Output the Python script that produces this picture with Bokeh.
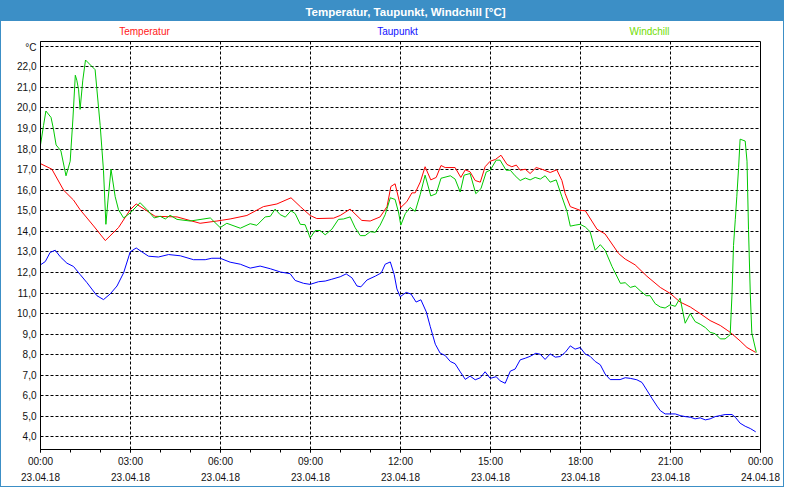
from bokeh.plotting import figure
from bokeh.layouts import column
from bokeh.models import FixedTicker
from bokeh.core.properties import value
from bokeh.embed import file_html
from bokeh.resources import INLINE

# ---------------- data (hours since 23.04.18 00:00, °C) ----------------
t_temp = [0.0, 0.38, 0.77, 1.1, 1.32, 1.77, 2.16, 2.6, 2.99, 3.19, 3.49, 3.82, 4.55, 5.32, 5.88,
          6.32, 6.88, 7.43, 7.88, 8.35, 8.66, 8.99, 9.21, 9.77, 9.99, 10.32, 10.71, 10.99, 11.32,
          11.55, 11.68, 11.82, 12.01, 12.21, 12.38, 12.49, 12.66, 12.82, 13.01, 13.19, 13.35,
          13.49, 13.82, 14.01, 14.16, 14.32, 14.49, 14.66, 14.82, 14.99, 15.16, 15.35, 15.55,
          15.71, 15.86, 15.99, 16.16, 16.32, 16.52, 16.71, 16.99, 17.21, 17.38, 17.49, 17.66,
          17.99, 18.16, 18.55, 18.82, 19.27, 19.49, 19.82, 20.21, 20.66, 20.99, 21.32, 21.66,
          21.99, 22.32, 22.66, 22.99, 23.32, 23.55, 23.84]
temp = [17.29, 17.02, 16.0, 15.52, 15.05, 14.26, 13.55, 14.18, 15.05, 15.33, 15.05, 14.73, 14.7,
        14.39, 14.5, 14.6, 14.77, 15.2, 15.33, 15.63, 15.2, 14.77, 14.62, 14.64, 14.77, 15.08,
        14.53, 14.5, 14.7, 15.2, 16.18, 16.31, 15.16, 15.44, 15.87, 15.87, 16.4, 17.14, 16.5,
        16.62, 17.2, 17.1, 17.1, 16.62, 16.99, 16.89, 16.47, 16.39, 17.14, 17.41, 17.49, 17.7,
        17.25, 17.14, 17.22, 16.97, 17.02, 16.81, 17.1, 17.02, 16.86, 16.99, 16.47, 15.83, 15.2,
        15.02, 15.0, 14.1, 13.87, 12.92, 12.65, 12.37, 11.82, 11.27, 10.98, 10.56, 10.32, 10.0,
        9.66, 9.42, 9.09, 8.67, 8.35, 8.11]

t_dew = [0.0, 0.16, 0.32, 0.49, 0.66, 0.88, 1.1, 1.32, 1.55, 1.88, 2.1, 2.32, 2.55, 2.77, 2.99,
         3.19, 3.38, 3.6, 3.93, 4.27, 4.66, 5.1, 5.49, 5.71, 5.99, 6.32, 6.66, 6.99, 7.32, 7.66,
         8.0, 8.32, 8.49, 8.77, 8.99, 9.27, 9.49, 9.71, 9.99, 10.19, 10.38, 10.55, 10.68, 10.88,
         11.16, 11.36, 11.49, 11.66, 11.79, 11.88, 11.99, 12.19, 12.35, 12.52, 12.68, 12.86,
         12.99, 13.16, 13.32, 13.49, 13.66, 13.82, 13.99, 14.16, 14.32, 14.49, 14.66, 14.82,
         14.99, 15.19, 15.32, 15.49, 15.66, 15.82, 15.99, 16.16, 16.32, 16.51, 16.66, 16.82,
         16.99, 17.16, 17.32, 17.49, 17.66, 17.82, 17.99, 18.16, 18.32, 18.49, 18.66, 18.82,
         18.99, 19.32, 19.49, 19.66, 19.88, 20.05, 20.21, 20.38, 20.55, 20.66, 20.82, 21.16,
         21.32, 21.49, 21.66, 21.82, 21.99, 22.16, 22.32, 22.49, 22.66, 22.82, 23.05, 23.16,
         23.32, 23.49, 23.66, 23.84]
dew = [12.37, 12.53, 12.97, 13.08, 12.76, 12.45, 12.29, 11.9, 11.5, 10.87, 10.68, 10.95, 11.34,
       11.98, 13.0, 13.19, 13.0, 12.79, 12.75, 12.87, 12.81, 12.62, 12.62, 12.69, 12.69, 12.5,
       12.4, 12.21, 12.31, 12.18, 12.02, 11.94, 11.61, 11.47, 11.42, 11.55, 11.58, 11.67, 11.79,
       11.93, 11.74, 11.34, 11.3, 11.63, 11.82, 11.98, 12.4, 12.51, 11.9, 11.2, 10.82, 11.03,
       10.95, 10.56, 10.67, 10.08, 9.38, 8.51, 8.08, 7.96, 7.67, 7.56, 7.17, 6.8, 6.96, 6.78,
       6.88, 7.17, 6.85, 6.93, 6.73, 6.61, 7.2, 7.3, 7.75, 7.83, 7.92, 8.07, 8.02, 7.77, 8.04,
       7.88, 7.91, 8.11, 8.43, 8.27, 8.35, 8.03, 7.92, 7.67, 7.51, 7.06, 6.79, 6.79, 6.88, 6.85,
       6.78, 6.65, 6.28, 5.88, 5.5, 5.28, 5.12, 5.12, 5.04, 4.99, 4.96, 4.88, 4.93, 4.83, 4.88,
       4.99, 5.04, 5.09, 5.09, 4.96, 4.67, 4.52, 4.41, 4.25]

t_wind = [0.0, 0.1, 0.18, 0.35, 0.43, 0.52, 0.68, 0.85, 0.99, 1.08, 1.16, 1.21, 1.27, 1.32, 1.41,
          1.5, 1.82, 1.99, 2.1, 2.18, 2.25, 2.35, 2.49, 2.6, 2.77, 2.99, 3.32, 3.55, 3.79, 3.99,
          4.16, 4.32, 4.55, 4.99, 5.66, 5.99, 6.21, 6.66, 6.99, 7.21, 7.49, 7.66, 7.82, 7.99,
          8.16, 8.35, 8.49, 8.66, 8.82, 8.99, 9.16, 9.32, 9.49, 9.71, 9.93, 10.1, 10.32, 10.49,
          10.66, 10.82, 10.99, 11.16, 11.32, 11.49, 11.66, 11.82, 11.94, 12.01, 12.16, 12.32,
          12.49, 12.66, 12.82, 13.01, 13.19, 13.35, 13.66, 13.82, 13.99, 14.12, 14.32, 14.51,
          14.68, 14.86, 14.99, 15.19, 15.32, 15.52, 15.66, 15.82, 15.99, 16.16, 16.32, 16.49,
          16.66, 16.82, 16.99, 17.19, 17.38, 17.55, 17.66, 17.82, 17.99, 18.16, 18.32, 18.49,
          18.66, 18.82, 19.05, 19.33, 19.49, 19.66, 19.82, 19.99, 20.19, 20.32, 20.49, 20.66,
          20.82, 20.99, 21.16, 21.32, 21.41, 21.49, 21.66, 21.82, 21.99, 22.16, 22.32, 22.49,
          22.66, 22.82, 22.99, 23.05, 23.1, 23.16, 23.21, 23.27, 23.32, 23.49, 23.55, 23.6,
          23.66, 23.71, 23.86]
wind = [18.2, 19.14, 19.85, 19.54, 18.99, 18.2, 17.91, 16.7, 17.41, 19.46, 21.59, 21.35, 20.88,
        19.93, 21.35, 22.33, 21.86, 19.14, 16.94, 14.34, 15.52, 17.02, 15.68, 15.05, 14.65,
        14.89, 15.39, 15.05, 14.65, 14.73, 14.6, 14.78, 14.58, 14.5, 14.65, 14.18, 14.39, 14.15,
        14.37, 14.29, 14.7, 14.73, 15.08, 14.81, 14.69, 15.0, 14.86, 14.34, 14.32, 13.68, 14.04,
        14.04, 13.83, 14.1, 14.58, 14.6, 14.7, 14.17, 13.79, 13.79, 13.98, 13.95, 14.3, 14.81,
        15.63, 15.55, 14.89, 14.3, 14.86, 15.16, 14.97, 15.8, 16.73, 15.72, 15.83, 16.58, 16.7,
        16.54, 15.91, 16.73, 16.81, 15.83, 16.07, 16.89, 16.97, 17.46, 17.46, 16.97, 16.97, 16.7,
        16.47, 16.59, 16.5, 16.62, 16.54, 16.7, 16.39, 16.5, 15.68, 14.97, 14.25, 14.3, 14.34,
        14.21, 13.98, 13.08, 13.35, 13.08, 12.29, 11.47, 11.5, 11.27, 11.34, 11.11, 10.87, 10.87,
        10.48, 10.32, 10.27, 10.43, 10.35, 10.75, 10.09, 9.53, 10.0, 9.61, 9.48, 9.32, 9.09,
        9.02, 8.77, 8.77, 8.97, 10.95, 13.31, 14.58, 15.68, 17.1, 18.48, 18.39, 17.41, 14.1,
        10.95, 9.06, 8.11]

x_ticks = [0, 3, 6, 9, 12, 15, 18, 21, 24]
x_time_labels = ["00:00", "03:00", "06:00", "09:00", "12:00", "15:00", "18:00", "21:00", "00:00"]
x_date_labels = ["23.04.18", "23.04.18", "23.04.18", "23.04.18", "23.04.18", "23.04.18",
                 "23.04.18", "23.04.18", "24.04.18"]
y_ticks = [4, 5, 6, 7, 8, 9, 10, 11, 12, 13, 14, 15, 16, 17, 18, 19, 20, 21, 22, 23]
y_labels = ["4,0", "5,0", "6,0", "7,0", "8,0", "9,0", "10,0", "11,0", "12,0", "13,0", "14,0",
            "15,0", "16,0", "17,0", "18,0", "19,0", "20,0", "21,0", "22,0", "°C"]

title_text = "Temperatur, Taupunkt, Windchill [°C]"
series_names = ["Temperatur", "Taupunkt", "Windchill"]
series_colors = ["#ff0000", "#0000ff", "#00c800"]
legend_text_colors = ["#ff2020", "#1010ff", "#70dd00"]

# ---------------- layout constants ----------------
FONT = "Liberation Sans"
BLUE = "#3c8fc6"
W = 782                # content width (plus 1px CSS border each side)
BAR_H, LEG_H = 20, 20
FL, FW, FH = 39, 720, 408
MAIN_H = 442 - BAR_H - LEG_H


def strip(height, fill):
    """A bare figure used as a header strip (its x data units equal canvas pixels)."""
    f = figure(width=W, height=height, x_range=(FL, FL + FW), y_range=(height, 0),
               x_axis_type=None, y_axis_type=None, output_backend="svg",
               toolbar_location=None, min_border=0,
               styles={"background-color": fill})
    f.outline_line_color = None
    f.background_fill_color = fill
    f.border_fill_color = fill
    f.grid.visible = False
    return f


# title bar
bar = strip(BAR_H, BLUE)
bar.text(x=[404], y=[10], text=[title_text], text_align="center", text_baseline="middle",
         text_color="white", text_font=value(FONT), text_font_size="11.5px",
         text_font_style="bold")

# legend row
leg = strip(LEG_H, "white")
leg.text(x=[143, 396, 648], y=[10, 10, 10], text=series_names, text_align="center",
         text_baseline="middle", text_color=legend_text_colors, text_font=value(FONT),
         text_font_size="10px")

# ---------------- main chart ----------------
p = figure(width=W, height=MAIN_H, x_range=(0, 24), y_range=(3.39, 23.23),
           frame_width=FW, frame_height=FH,
           output_backend="svg", toolbar_location=None,
           min_border_left=FL, min_border_right=W - FL - FW, min_border_top=0,
           min_border_bottom=MAIN_H - FH)
p.background_fill_color = "#ffffff"
p.border_fill_color = "#ffffff"
p.outline_line_color = "black"
p.outline_line_width = 1

xa = p.xaxis[0]
xa.ticker = FixedTicker(ticks=x_ticks, minor_ticks=list(range(25)))
xa.major_label_overrides = {t: f"{a}\n{b}" for t, a, b in zip(x_ticks, x_time_labels, x_date_labels)}
xa.major_label_text_font = FONT
xa.major_label_text_font_size = "10px"
xa.major_label_text_color = "#111111"
xa.major_label_text_line_height = 1.5
xa.major_label_standoff = 3
xa.major_tick_in = 0
xa.major_tick_out = 3
xa.minor_tick_in = 0
xa.minor_tick_out = 3
xa.axis_line_color = "black"
xa.major_tick_line_color = "black"
xa.minor_tick_line_color = "black"

ya = p.yaxis[0]
ya.ticker = FixedTicker(ticks=y_ticks, minor_ticks=[])
ya.major_label_overrides = {t: l for t, l in zip(y_ticks, y_labels)}
ya.major_label_text_font = FONT
ya.major_label_text_font_size = "10px"
ya.major_label_text_color = "#111111"
ya.major_label_standoff = 4
ya.major_tick_in = 0
ya.major_tick_out = 0
ya.minor_tick_line_color = None
ya.axis_line_color = "black"

for g in (p.xgrid[0], p.ygrid[0]):
    g.grid_line_color = "black"
    g.grid_line_dash = "3 2"
    g.grid_line_width = 1
    g.grid_line_alpha = 1.0

for tx, vy, col in zip([t_temp, t_dew, t_wind], [temp, dew, wind], series_colors):
    p.line(tx, vy, line_color=col, line_width=1)

layout = column(bar, leg, p, spacing=0, styles={"border": f"1px solid {BLUE}"})

open("out.html", "w").write(file_html(layout, INLINE))
